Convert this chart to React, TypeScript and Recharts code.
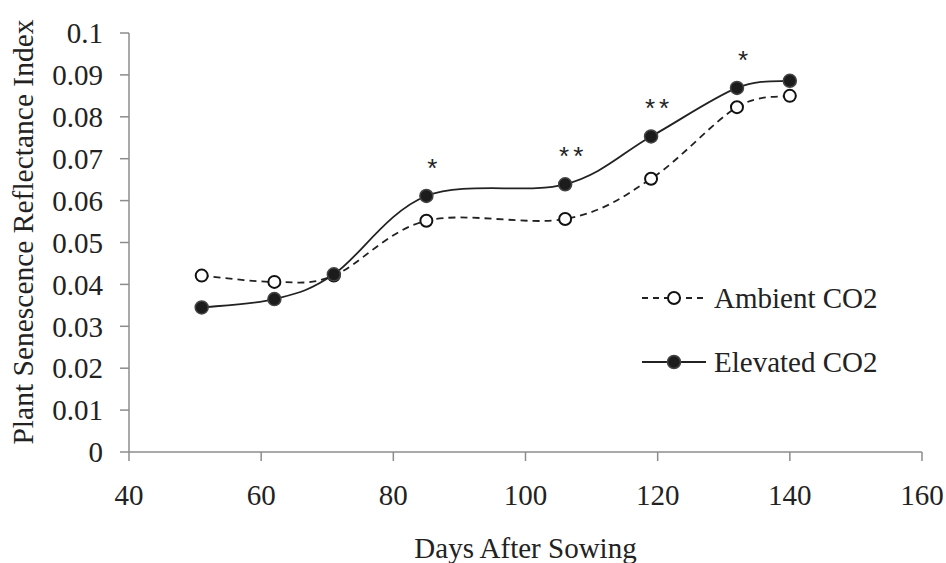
import { Label, LabelList, Legend, Line, LineChart, XAxis, YAxis } from 'recharts'

const days = [51, 62, 71, 85, 106, 119, 132, 140]
const ambientCO2 = [0.0421, 0.0406, 0.0421, 0.0552, 0.0556, 0.0652, 0.0823, 0.085]
const elevatedCO2 = [0.0345, 0.0365, 0.0424, 0.0611, 0.0639, 0.0753, 0.0869, 0.0886]
const significance = ['', '', '', '*', '**', '**', '*', '']
const xTicks = [40, 60, 80, 100, 120, 140, 160]
const yTicks = [0, 0.01, 0.02, 0.03, 0.04, 0.05, 0.06, 0.07, 0.08, 0.09, 0.1]

const dados = days.map((day, i) => ({
  day,
  ambient: ambientCO2[i],
  elevated: elevatedCO2[i],
  sig: significance[i],
}))

const FONT = 'Liberation Serif'
const AXIS = '#8c8c8c'
const INK = '#222'

// excel style smoothed line (catmull-rom through the points)
function excelSmooth(context: any) {
  let pts: [number, number][] = []
  return {
    areaStart() {},
    areaEnd() {},
    lineStart() {
      pts = []
    },
    point(x: number, y: number) {
      pts.push([+x, +y])
    },
    lineEnd() {
      if (pts.length === 0) return
      context.moveTo(pts[0][0], pts[0][1])
      for (let i = 0; i < pts.length - 1; i++) {
        const p0 = pts[Math.max(i - 1, 0)]
        const p1 = pts[i]
        const p2 = pts[i + 1]
        const p3 = pts[Math.min(i + 2, pts.length - 1)]
        context.bezierCurveTo(
          p1[0] + (p2[0] - p0[0]) / 6,
          p1[1] + (p2[1] - p0[1]) / 6,
          p2[0] - (p3[0] - p1[0]) / 6,
          p2[1] - (p3[1] - p1[1]) / 6,
          p2[0],
          p2[1],
        )
      }
    },
  }
}

function Estrela(props: any) {
  const { x, y, value } = props
  if (!value) return null
  return (
    <text
      x={x + 8}
      y={y - 19}
      textAnchor="middle"
      fontFamily="Liberation Sans"
      fontSize={26}
      letterSpacing={4}
      fill={INK}
    >
      {value}
    </text>
  )
}

function Legenda() {
  const linha = (dashed: boolean, filled: boolean, nome: string) => (
    <div style={{ display: 'flex', alignItems: 'center', height: 64 }}>
      <svg width={68} height={20}>
        <line
          x1={2}
          y1={10}
          x2={66}
          y2={10}
          stroke={INK}
          strokeWidth={1.8}
          strokeDasharray={dashed ? '6 5' : undefined}
        />
        <circle
          cx={34}
          cy={10}
          r={filled ? 6.5 : 6}
          fill={filled ? '#1c1c1c' : '#fff'}
          stroke={filled ? '#444' : '#111'}
          strokeWidth={filled ? 1.5 : 2}
        />
      </svg>
      <span style={{ marginLeft: 6, fontFamily: FONT, fontSize: 29, color: INK, lineHeight: 1 }}>
        {nome}
      </span>
    </div>
  )
  return (
    <div>
      {linha(true, false, 'Ambient CO2')}
      {linha(false, true, 'Elevated CO2')}
    </div>
  )
}

export default function App() {
  return (
    <div style={{ position: 'absolute', left: 0, top: 0, background: '#fff', fontFamily: FONT }}>
      <LineChart
        width={946}
        height={563}
        data={dados}
        margin={{ top: 33, right: 24, bottom: 0, left: 0 }}
        style={{ fontFamily: FONT }}
      >
        <XAxis
          dataKey="day"
          type="number"
          domain={[40, 160]}
          ticks={xTicks}
          height={111}
          tickSize={9}
          tickMargin={23}
          axisLine={{ stroke: AXIS, strokeWidth: 1.5 }}
          tickLine={{ stroke: AXIS, strokeWidth: 1.5 }}
          tick={{ fill: INK, fontSize: 29, fontFamily: FONT }}
        >
          <Label
            value="Days After Sowing"
            position="insideBottom"
            offset={5}
            fill={INK}
            fontSize={29}
            fontFamily={FONT}
          />
        </XAxis>
        <YAxis
          type="number"
          domain={[0, 0.1]}
          ticks={yTicks}
          width={129}
          tickSize={9}
          tickMargin={17}
          tickFormatter={(v: number) => String(v)}
          axisLine={{ stroke: AXIS, strokeWidth: 1.5 }}
          tickLine={{ stroke: AXIS, strokeWidth: 1.5 }}
          tick={{ fill: INK, fontSize: 29, fontFamily: FONT }}
        >
          <Label
            content={() => (
              <text
                x={33}
                y={232}
                transform="rotate(-90, 33, 232)"
                textAnchor="middle"
                fill={INK}
                fontSize={29.5}
                fontFamily={FONT}
              >
                Plant Senescence Reflectance Index
              </text>
            )}
          />
        </YAxis>
        <Legend
          layout="horizontal"
          verticalAlign="middle"
          align="center"
          content={() => <Legenda />}
          wrapperStyle={{ left: 640, top: 266, width: 300 }}
        />
        <Line
          dataKey="ambient"
          name="Ambient CO2"
          type={excelSmooth as any}
          stroke={INK}
          strokeWidth={1.8}
          strokeDasharray="7 5"
          dot={{ r: 6, fill: '#fff', stroke: '#111', strokeWidth: 2, strokeDasharray: '' }}
          activeDot={false}
          isAnimationActive={false}
        />
        <Line
          dataKey="elevated"
          name="Elevated CO2"
          type={excelSmooth as any}
          stroke={INK}
          strokeWidth={1.8}
          dot={{ r: 6.5, fill: '#1c1c1c', stroke: '#444', strokeWidth: 1.5 }}
          activeDot={false}
          isAnimationActive={false}
        >
          <LabelList dataKey="sig" content={<Estrela />} />
        </Line>
      </LineChart>
    </div>
  )
}
